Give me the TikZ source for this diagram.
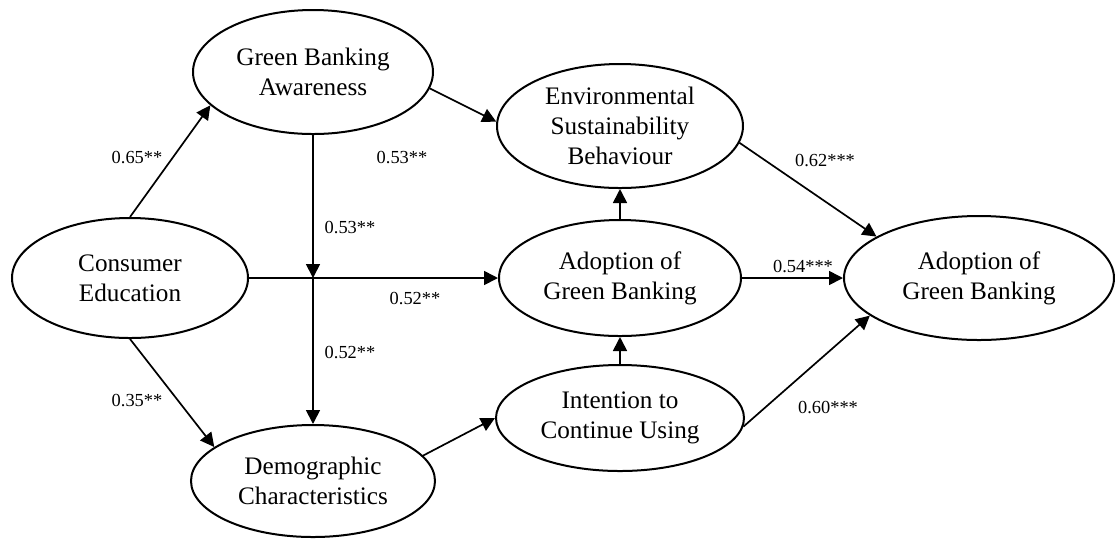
\documentclass[tikz,border=0pt]{standalone}
\usepackage{fontspec}
\setmainfont{Liberation Serif}
\usetikzlibrary{arrows.meta,shapes.geometric}

\begin{document}
\begin{tikzpicture}[
        x=0.5pt, y=-0.5pt,
        construct/.style={draw, ellipse, align=center, line width=1pt, inner sep=0pt, font=\fontsize{12.6}{15}\selectfont},
        coef/.style={font=\fontsize{9.2}{11}\selectfont, inner sep=1pt},
        link/.style={-{Triangle[length=7pt,width=7pt]}, line width=0.85pt}
    ]
    \useasboundingbox (0,0) rectangle (1115,538);
    \node[construct, minimum width=120pt, minimum height=62pt] (awareness) at (313,72) {Green Banking\\ Awareness};
    \node[construct, minimum width=123pt, minimum height=62pt] (behaviour) at (620,126) {Environmental\\ Sustainability\\ Behaviour};
    \node[construct, minimum width=118pt, minimum height=60pt] (education) at (130,278) {Consumer\\ Education};
    \node[construct, minimum width=121pt, minimum height=58pt] (adoption) at (620,278) {Adoption of\\ Green Banking};
    \node[construct, minimum width=135pt, minimum height=62pt] (final) at (979,278) {Adoption of\\ Green Banking};
    \node[construct, minimum width=124pt, minimum height=53pt] (intention) at (620,418) {Intention to\\ Continue Using};
    \node[construct, minimum width=122pt, minimum height=56pt] (demographic) at (313,481) {Demographic\\ Characteristics};
    \coordinate (cross) at (313,278);

    \draw[link] (education.north) -- (awareness.198);
    \draw[link] (awareness.-8) -- (behaviour.178);
    \draw[link] (awareness.south) -- (cross);
    \draw[link] (cross) -- (demographic.north);
    \draw[link] (education.east) -- (adoption.west);
    \draw[link] (education.south) -- (demographic.161);
    \draw[link] (demographic.13) -- (intention.west);
    \draw[link] (intention.north) -- (adoption.south);
    \draw[link] (adoption.north) -- (behaviour.south);
    \draw[link] (behaviour.-8) -- (final.158);
    \draw[link] (adoption.east) -- (final.west);
    \draw[link] (intention.-4) -- (final.199);

    \node[coef] (c1) at (137,157) {0.65**};
    \node[coef] (c2) at (402,158) {0.53**};
    \node[coef] (c3) at (350,228) {0.53**};
    \node[coef] (c4) at (415,298) {0.52**};
    \node[coef] (c5) at (350,352) {0.52**};
    \node[coef] (c6) at (137,400) {0.35**};
    \node[coef] (c7) at (825,161) {0.62***};
    \node[coef] (c8) at (803,266) {0.54***};
    \node[coef] (c9) at (828,407) {0.60***};
\end{tikzpicture}
\end{document}
